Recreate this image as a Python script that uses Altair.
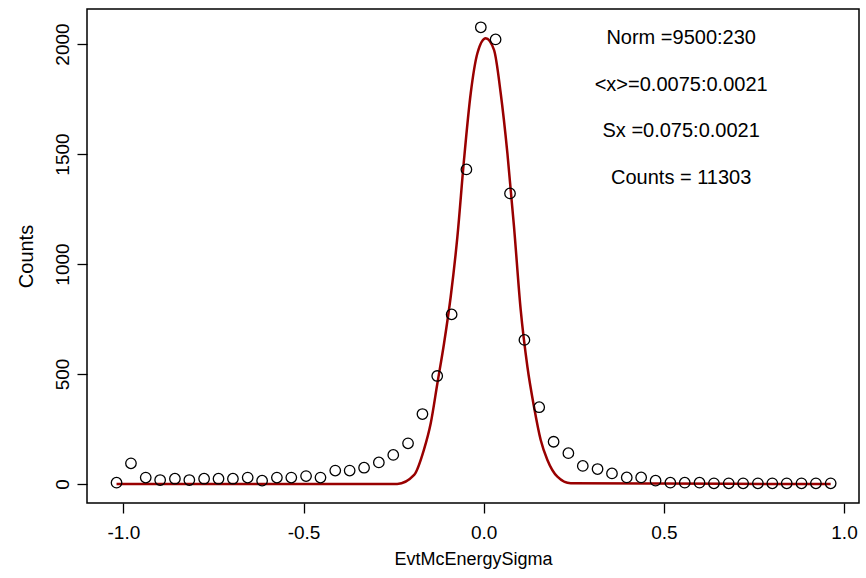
import altair as alt
import pandas as pd

# Histogram points (bin centres and counts)
bin_x = [-1.019, -0.979, -0.938, -0.898, -0.857, -0.817, -0.776, -0.736, -0.696, -0.655,
         -0.615, -0.574, -0.534, -0.493, -0.453, -0.412, -0.372, -0.332, -0.291, -0.251,
         -0.210, -0.170, -0.129, -0.089, -0.048, -0.008, 0.033, 0.073, 0.113, 0.154,
         0.194, 0.235, 0.275, 0.316, 0.356, 0.397, 0.437, 0.477, 0.518, 0.558,
         0.599, 0.639, 0.680, 0.720, 0.761, 0.801, 0.841, 0.882, 0.922, 0.963]
bin_counts = [6, 94, 29, 18, 24, 18, 24, 24, 24, 29,
              15, 29, 29, 36, 29, 61, 61, 74, 98, 132,
              185, 318, 491, 771, 1430, 2076, 2021, 1321, 655, 349,
              192, 140, 82, 68, 48, 30, 30, 15, 6, 6,
              6, 3, 3, 3, 3, 3, 3, 3, 3, 3]

# Fitted curve
fit_x = [-1.019, -0.24, -0.193, -0.166, -0.147, -0.1285, -0.110, -0.0916, -0.073, -0.0547,
         -0.036, -0.0175, 0.0056, 0.0286, 0.0472, 0.0658, 0.0841, 0.1027, 0.1213, 0.1396,
         0.1582, 0.1768, 0.2045, 0.2415, 0.963]
fit_y = [0, 0, 41, 155, 276, 458, 640, 851, 1124, 1473,
         1776, 1958, 2026, 1973, 1776, 1503, 1170, 791, 533, 351,
         200, 109, 33, 3, 0]

# Fit annotations
annot_text = ["Norm =9500:230", "<x>=0.0075:0.0021", "Sx =0.075:0.0021", "Counts = 11303"]
annot_x = [0.548, 0.548, 0.548, 0.548]
annot_y = [2000, 1788, 1576, 1364]

x_ticks = [-1.0, -0.5, 0.0, 0.5, 1.0]
y_ticks = [0, 500, 1000, 1500, 2000]

FONT = "Liberation Sans"

pts = pd.DataFrame({"x": bin_x, "y": bin_counts})
fit = pd.DataFrame({"x": fit_x, "y": fit_y})
ann = pd.DataFrame({"x": annot_x, "y": annot_y, "t": annot_text})

xs = alt.Scale(domain=[-1.101, 1.0416], nice=False, zero=False)
ys = alt.Scale(domain=[-86.4, 2159.1], nice=False, zero=False)

x_axis = alt.Axis(values=x_ticks, title="EvtMcEnergySigma",
                  labelExpr="replace(format(datum.value, '.1f'), '\u2212', '-')",
                  labelFontSize=19, labelPadding=25, labelBaseline="alphabetic",
                  titleFontSize=18, titleY=61, titleBaseline="alphabetic",
                  titleFontWeight="normal")
y_axis = alt.Axis(values=y_ticks, format="d", title="Counts",
                  labelFontSize=19, labelAngle=270, labelAlign="center",
                  labelBaseline="alphabetic", labelPadding=9,
                  titleFontSize=20, titleAngle=270, titleAlign="center",
                  titleBaseline="alphabetic", titleX=-55, titleFontWeight="normal")

line = alt.Chart(fit).mark_line(color="#990000", strokeWidth=2.5, interpolate="monotone").encode(
    x=alt.X("x:Q", scale=xs, axis=x_axis),
    y=alt.Y("y:Q", scale=ys, axis=y_axis),
)

points = alt.Chart(pts).mark_point(shape="circle", filled=False, color="black",
                                   size=110, strokeWidth=1.3, opacity=1).encode(
    x=alt.X("x:Q", scale=xs),
    y=alt.Y("y:Q", scale=ys),
)

text = alt.Chart(ann).mark_text(font=FONT, fontSize=20, align="center",
                                baseline="alphabetic", color="black").encode(
    x=alt.X("x:Q", scale=xs),
    y=alt.Y("y:Q", scale=ys),
    text="t:N",
)

chart = alt.layer(line, points, text).properties(
    width=772, height=494,
    padding={"left": 87, "top": 9, "right": 7, "bottom": 75},
    autosize=alt.AutoSizeParams(type="none"),
    background="white",
).configure_view(
    stroke="black", strokeWidth=1.5,
).configure_axis(
    domain=False, grid=False, tickColor="black", tickSize=10, tickWidth=1.3,
    labelColor="black", titleColor="black", labelFont=FONT, titleFont=FONT,
)

chart.save("out.html", embed_options={"renderer": "svg", "actions": False})
